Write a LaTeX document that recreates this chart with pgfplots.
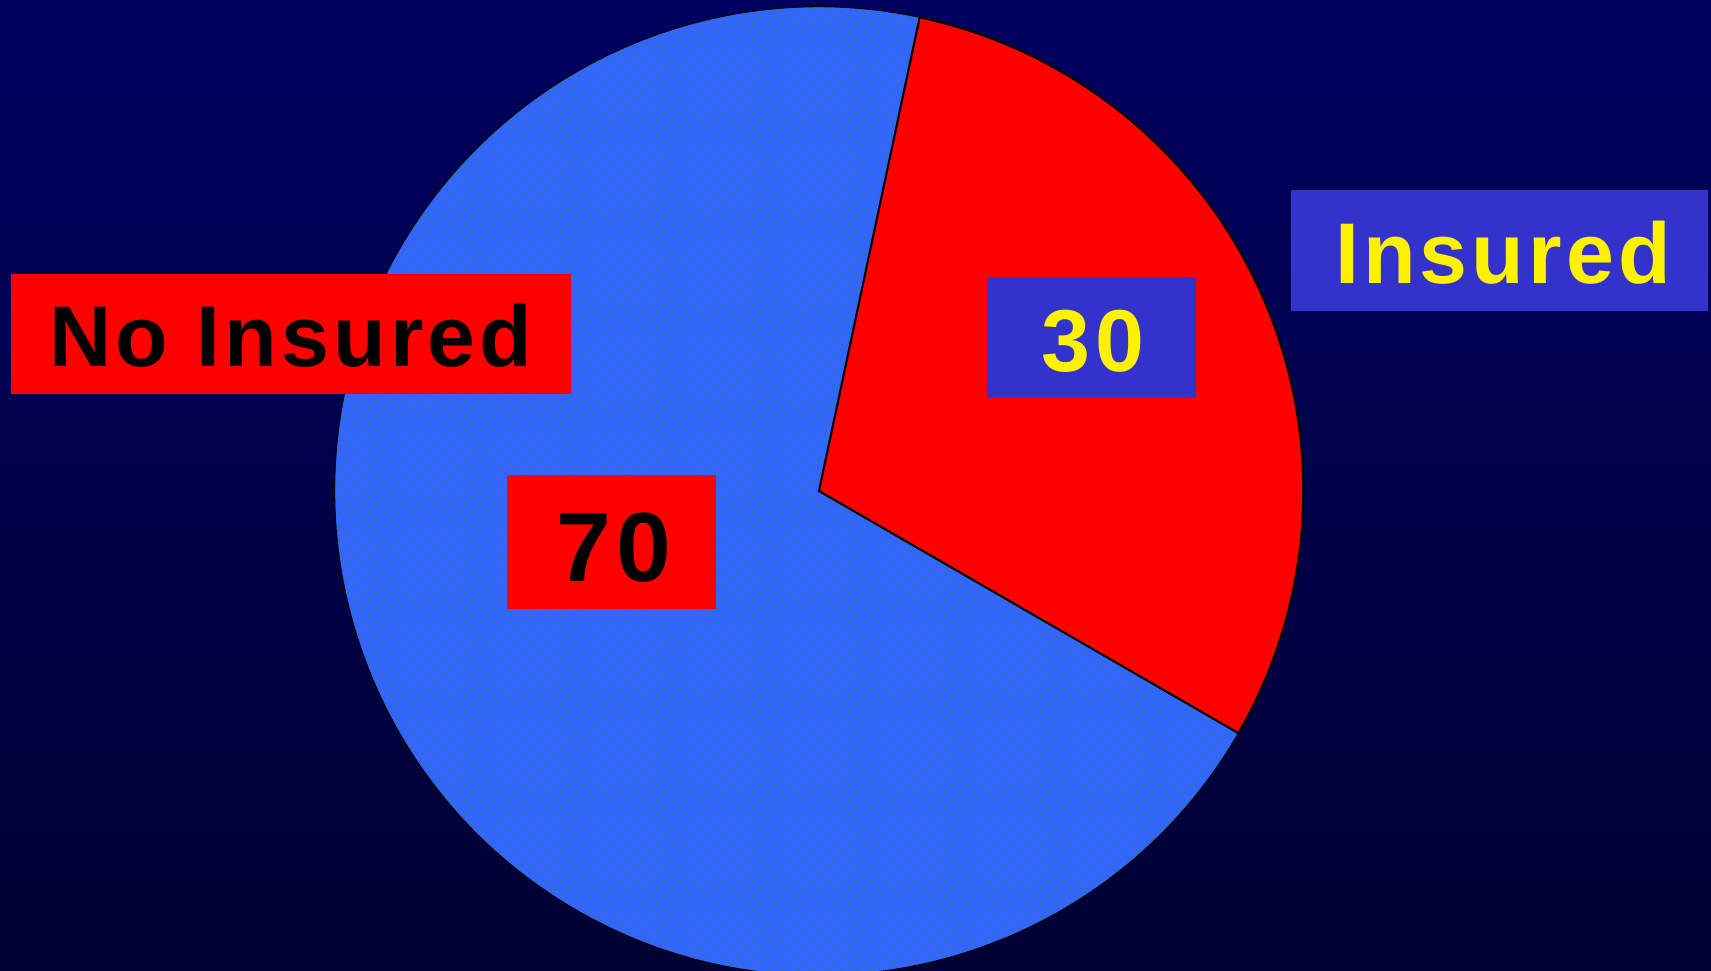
\documentclass[border=0pt]{standalone}
\usepackage{pgfplots}
\pgfplotsset{compat=1.18}
\usepackage{pgfplotstable}
\usepackage{fontspec}
\setmainfont{Liberation Sans}
\newfontfamily\lab[LetterSpace=4.8]{Liberation Sans}
\newfontfamily\num[LetterSpace=6]{Liberation Sans}
\usetikzlibrary{patterns.meta}
\definecolor{bgtop}{HTML}{000060}
\definecolor{bgbot}{HTML}{000033}
\definecolor{pieblue}{HTML}{3366FF}
\definecolor{piered}{HTML}{FF0000}
\definecolor{boxblue}{HTML}{3333CC}
\definecolor{dotc}{HTML}{2A7A9A}
\pgfplotstableread{
label value
NoInsured 70
Insured 30
}\piedata
\begin{document}
\begin{tikzpicture}
\pgfplotstablegetelem{0}{value}\of\piedata \edef\vA{\pgfplotsretval}
\pgfplotstablegetelem{1}{value}\of\piedata \edef\vB{\pgfplotsretval}
\pgfmathsetmacro{\startang}{78}
\pgfmathsetmacro{\midang}{\startang-3.6*\vB}
\pgfmathsetmacro{\endang}{\midang-3.6*\vA}
\def\R{4.84cm}
\begin{axis}[
  x=0.01cm, y=0.01cm,
  xmin=0, xmax=1711, ymin=0, ymax=970,
  hide axis, clip=false,
]
\coordinate (BL) at (axis cs:0,0);
\coordinate (TR) at (axis cs:1711,970);
% background
\addplot[draw=none, top color=bgtop, bottom color=bgbot] coordinates {(0,0) (1711,0) (1711,970) (0,970)} -- cycle;
% blue slice (70)
\fill[pieblue] (axis cs:819,479) -- ++(\midang:\R) arc[start angle=\midang, end angle=\endang, radius=\R] -- cycle;
\fill[pattern={Dots[distance=4.2pt, radius=0.5pt]}, pattern color=dotc] (axis cs:819,479) -- ++(\midang:\R) arc[start angle=\midang, end angle=\endang, radius=\R] -- cycle;
\fill[pattern={Dots[distance=4.2pt, radius=0.5pt, xshift=2.1pt, yshift=2.1pt]}, pattern color=dotc] (axis cs:819,479) -- ++(\midang:\R) arc[start angle=\midang, end angle=\endang, radius=\R] -- cycle;
\draw[black, line width=0.3pt] (axis cs:819,479) -- ++(\midang:\R) arc[start angle=\midang, end angle=\endang, radius=\R];
% red slice (30)
\filldraw[fill=piered, draw=black, line width=0.6pt] (axis cs:819,479) -- ++(\startang:\R) arc[start angle=\startang, end angle=\midang, radius=\R] -- cycle;
% label boxes
\fill[piered] (axis cs:11,576) rectangle (axis cs:571,696);
\fill[boxblue] (axis cs:1291,659) rectangle (axis cs:1708,780);
\fill[boxblue] (axis cs:987,572) rectangle (axis cs:1196,693);
\fill[piered] (axis cs:507,361) rectangle (axis cs:716,495);
% texts
\node[anchor=base, inner sep=0pt, text=black, font=\lab\bfseries\fontsize{24.5}{28}\selectfont] at (axis cs:291,603) {No Insured};
\node[anchor=base, inner sep=0pt, text=yellow, font=\lab\bfseries\fontsize{24.5}{28}\selectfont] at (axis cs:1503,686) {Insured};
\node[anchor=base, inner sep=0pt, text=yellow, font=\num\bfseries\fontsize{25}{28}\selectfont] at (axis cs:1093,598) {\vB};
\node[anchor=base, inner sep=0pt, text=black, font=\num\bfseries\fontsize{28}{30}\selectfont] at (axis cs:614,388) {\vA};
\end{axis}
\pgfresetboundingbox
\path[use as bounding box] (BL) rectangle (TR);
\end{tikzpicture}
\end{document}
